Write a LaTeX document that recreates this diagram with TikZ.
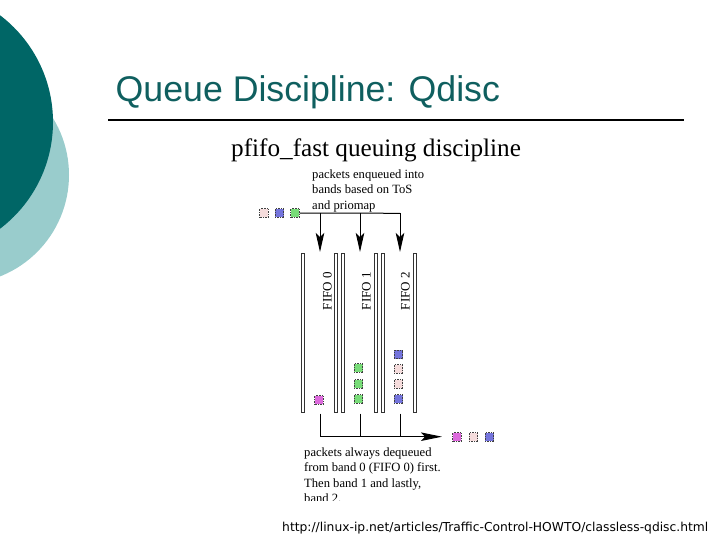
\documentclass[tikz,border=0pt]{standalone}
\usepackage{fontspec}
\setmainfont{Liberation Serif}
\newfontfamily\titlefont{Liberation Sans}
\newfontfamily\urlfont{DejaVu Sans}
\usetikzlibrary{arrows.meta}
\definecolor{darkteal}{HTML}{006666}
\definecolor{lightteal}{HTML}{99CCCC}
\definecolor{titleteal}{HTML}{0F5F5F}
\definecolor{pinkpkt}{HTML}{F5DCDC}
\definecolor{bluepkt}{HTML}{7474DC}
\definecolor{greenpkt}{HTML}{78DC78}
\definecolor{magpkt}{HTML}{DC6ADC}
\tikzset{
  pkt/.style={draw=black!75, densely dotted, line width=0.6pt, minimum size=8.5pt, inner sep=0pt},
  bar/.style={draw=black!80, fill=white, line width=0.7pt},
  conn/.style={draw=black, line width=1pt},
  downarrow/.style={conn, -{Stealth[length=19pt,width=8.5pt,inset=4pt,fill=black]}},
  rightarrow/.style={conn, -{Stealth[length=21pt,width=8.5pt,inset=4pt,fill=black]}},
  smalltext/.style={font=\fontsize{12.6}{15.5}\selectfont, align=left, inner sep=0pt},
  fifolabel/.style={font=\fontsize{13}{15}\selectfont, rotate=90, inner sep=0pt},
  tube/.style={minimum width=33pt, minimum height=159pt, inner sep=0pt}
}
\begin{document}
\begin{tikzpicture}[x=1pt,y=-1pt]
\useasboundingbox (0,0) rectangle (720,540);
% decorative circles
\fill[lightteal] (-40,175) circle (109);
\fill[darkteal] (-81,122) circle (134);
% title
\node[anchor=base west, inner sep=0pt, text=titleteal, font=\titlefont\fontsize{35.7}{40}\selectfont] (title) at (115.5,101.7) {Queue Discipline: Qdisc};
\draw[line width=2pt] (108,120) -- (684,120);
% diagram title
\node[anchor=base west, inner sep=0pt, font=\fontsize{25.2}{28}\selectfont] (dtitle) at (231,157) {pfifo\_fast queuing discipline};
% top text
\node[smalltext, anchor=north west] (intext) at (312,169.4) {packets enqueued into\\bands based on ToS\\and priomap};
% incoming packets
\node[pkt, fill=pinkpkt] (ip0) at (264,213) {};
\node[pkt, fill=bluepkt] (ip1) at (279.5,213) {};
\node[pkt, fill=greenpkt] (ip2) at (295,213) {};
% tubes (invisible containers)
\node[tube] (fifo0) at (319.5,332.5) {};
\node[tube] (fifo1) at (359.5,332.5) {};
\node[tube] (fifo2) at (399,332.5) {};
% bars
\foreach \bx in {303,336,343,376,383,415}{
  \draw[bar] (\bx-1.7,253) rectangle (\bx+1.7,412);
}
% FIFO labels
\node[fifolabel, anchor=base east] (l0) at (331.5,272) {FIFO 0};
\node[fifolabel, anchor=base east] (l1) at (370.5,272) {FIFO 1};
\node[fifolabel, anchor=base east] (l2) at (409.5,272) {FIFO 2};
% junctions
\coordinate (j0) at (320,213.3);
\coordinate (j1) at (360,213.3);
\coordinate (j2) at (400,213.3);
\coordinate (a0) at (320,252);
\coordinate (a1) at (360,252);
\coordinate (a2) at (400,252);
\draw[conn] (ip2.east) -- (j2);
\draw[downarrow] (j0) -- (a0);
\draw[downarrow] (j1) -- (a1);
\draw[downarrow] (j2) -- (a2);
% packets in queues
\node[pkt, fill=magpkt] (q00) at (319,400) {};
\node[pkt, fill=greenpkt] (q10) at (358.5,399) {};
\node[pkt, fill=greenpkt] (q11) at (358.5,384) {};
\node[pkt, fill=greenpkt] (q12) at (358.5,368) {};
\node[pkt, fill=bluepkt] (q20) at (398.5,399) {};
\node[pkt, fill=pinkpkt] (q21) at (398.5,384) {};
\node[pkt, fill=pinkpkt] (q22) at (398.5,369) {};
\node[pkt, fill=bluepkt] (q23) at (398.5,354.5) {};
% outgoing
\coordinate (b0) at (320,413.5);
\coordinate (b1) at (360,413.5);
\coordinate (b2) at (400,413.5);
\coordinate (c0) at (320,436.7);
\coordinate (c1) at (360,436.7);
\coordinate (c2) at (400,436.7);
\coordinate (tip) at (442,436.7);
\draw[conn] (b0) -- (c0);
\draw[conn] (b1) -- (c1);
\draw[conn] (b2) -- (c2);
\draw[rightarrow] (c0) -- (tip);
\node[pkt, fill=magpkt] (op0) at (457,437) {};
\node[pkt, fill=pinkpkt] (op1) at (473.5,437) {};
\node[pkt, fill=bluepkt] (op2) at (489.5,437) {};
% bottom text
\begin{scope}
\clip (250,440) rectangle (520,500);
\node[smalltext, anchor=north west] (outtext) at (304,447.4) {packets always dequeued\\from band 0 (FIFO 0) first.\\Then band 1 and lastly,\\band 2.};
\end{scope}
% url
\node[anchor=base west, inner sep=0pt, font=\urlfont\fontsize{12.3}{14}\selectfont] (url) at (282,531.7) {http://linux-ip.net/articles/Traffic-Control-HOWTO/classless-qdisc.html};
\end{tikzpicture}
\end{document}
